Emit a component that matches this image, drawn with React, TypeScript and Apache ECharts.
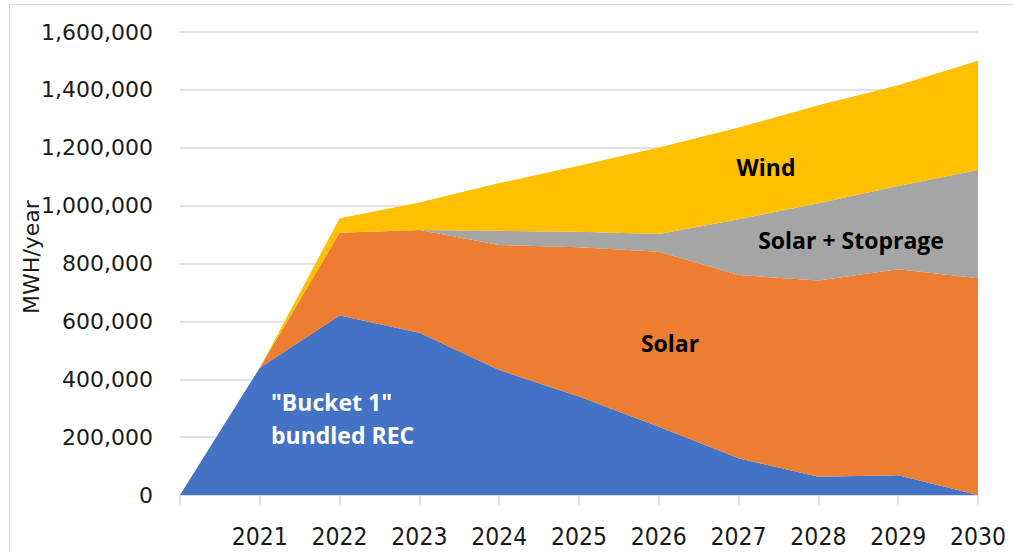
import React, { useEffect, useRef } from "react";
import * as echarts from "echarts";

const categories = ["", "2021", "2022", "2023", "2024", "2025", "2026", "2027", "2028", "2029", "2030"];
const bucket1 = [0, 440000, 620000, 561000, 432000, 340000, 236000, 127000, 63000, 68000, 0];
const solar = [0, 0, 286000, 355000, 432000, 516000, 605000, 633000, 678000, 712000, 749000];
const solarStorage = [0, 0, 0, 0, 49000, 54000, 61000, 193000, 267000, 288000, 374000];
const wind = [0, 0, 50000, 95000, 165000, 228000, 299000, 317000, 339000, 348000, 378000];

const seriesNames = ["\"Bucket 1\" bundled REC", "Solar", "Solar + Stoprage", "Wind"];
const colors = ["#4472C4", "#ED7D31", "#A5A5A5", "#FFC000"];

export default function App() {
  const ref = useRef<HTMLDivElement>(null);
  useEffect(() => {
    if (!ref.current) return;
    const chart = echarts.init(ref.current, null, { renderer: "svg" });
    const data = [bucket1, solar, solarStorage, wind];
    chart.setOption({
      animation: false,
      grid: { left: 180, right: 35, top: 32, bottom: 57, containLabel: false },
      xAxis: {
        type: "category",
        data: categories,
        boundaryGap: false,
        axisLine: { show: true, lineStyle: { color: "#D9D9D9", width: 1.5 } },
        axisTick: { show: true, length: 10, lineStyle: { color: "#D9D9D9", width: 1.5 } },
        axisLabel: {
          interval: 0,
          margin: 29,
          color: "#1a1a1a",
          fontSize: 24.5,
          fontFamily: "DejaVu Sans Condensed",
        },
        splitLine: { show: false },
      },
      yAxis: {
        type: "value",
        min: 0,
        max: 1600000,
        interval: 200000,
        axisLine: { show: false },
        axisTick: { show: false },
        axisLabel: {
          margin: 27,
          color: "#1a1a1a",
          fontSize: 22,
          fontFamily: "DejaVu Sans",
          formatter: (v: number) => v.toLocaleString("en-US"),
        },
        splitLine: { show: true, lineStyle: { color: "#D9D9D9", width: 1.5 } },
      },
      series: data.map((d, i) => ({
        name: seriesNames[i],
        type: "line",
        stack: "total",
        data: d,
        symbol: "none",
        lineStyle: { width: 0 },
        areaStyle: { color: colors[i], opacity: 1 },
        itemStyle: { color: colors[i] },
        z: 2,
      })),
      graphic: [
        {
          type: "rect",
          shape: { x: 9.5, y: 4.5, width: 1020, height: 570 },
          style: { fill: "none", stroke: "#D9D9D9", lineWidth: 1 },
          silent: true,
        },
        {
          type: "text",
          x: 31,
          y: 257,
          rotation: Math.PI / 2,
          style: {
            text: "MWH/year",
            fontSize: 22,
            fontFamily: "DejaVu Sans",
            fill: "#1a1a1a",
            align: "center",
            verticalAlign: "middle",
          },
        },
        {
          type: "text",
          x: 766,
          y: 167,
          style: { text: "Wind", fontSize: 23, fontWeight: "bold", fontFamily: "Open Sans", fill: "#000", align: "center", verticalAlign: "middle" },
          z: 10,
        },
        {
          type: "text",
          x: 851,
          y: 240,
          style: { text: "Solar + Stoprage", fontSize: 23, fontWeight: "bold", fontFamily: "Open Sans", fill: "#000", align: "center", verticalAlign: "middle" },
          z: 10,
        },
        {
          type: "text",
          x: 670,
          y: 343,
          style: { text: "Solar", fontSize: 23, fontWeight: "bold", fontFamily: "Open Sans", fill: "#000", align: "center", verticalAlign: "middle" },
          z: 10,
        },
        {
          type: "text",
          x: 271,
          y: 402,
          style: { text: "\"Bucket 1\"", fontSize: 23, fontWeight: "bold", fontFamily: "Open Sans", fill: "#fff", align: "left", verticalAlign: "middle" },
          z: 10,
        },
        {
          type: "text",
          x: 271,
          y: 435,
          style: { text: "bundled REC", fontSize: 23, fontWeight: "bold", fontFamily: "Open Sans", fill: "#fff", align: "left", verticalAlign: "middle" },
          z: 10,
        },
      ],
    });
    return () => chart.dispose();
  }, []);
  return (
    <div
      ref={ref}
      style={{ position: "absolute", left: 0, top: 0, width: 1013, height: 552, background: "#fff" }}
    />
  );
}
